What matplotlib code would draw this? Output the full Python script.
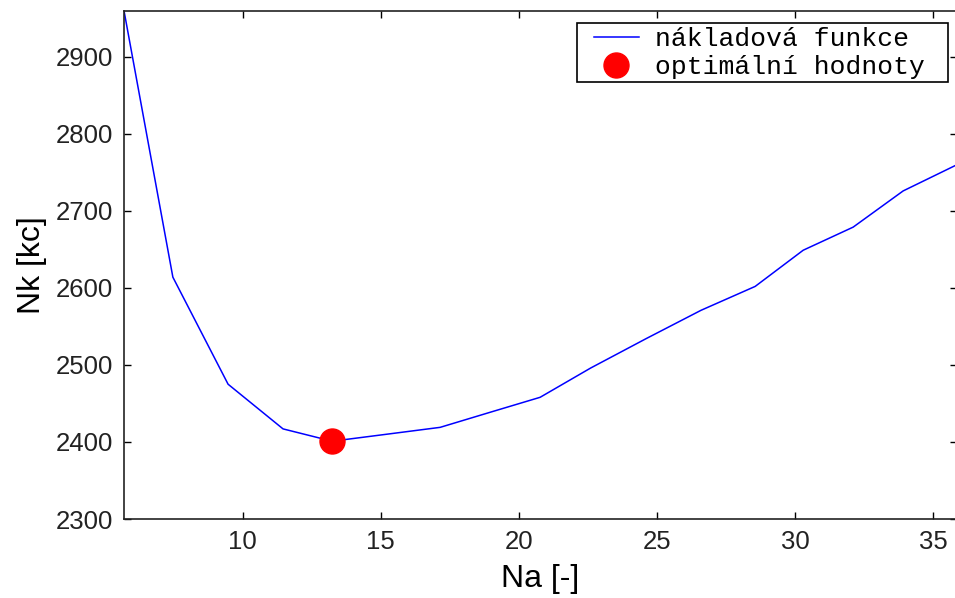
import matplotlib
matplotlib.use("Agg")
import matplotlib.pyplot as plt
from matplotlib.patches import Rectangle

# cost function samples
na = [5.70, 7.47, 9.47, 11.46, 13.24, 15.2, 17.15, 19.0, 20.77, 22.6, 24.6, 26.6,
      28.56, 30.30, 32.11, 33.92, 35.81]
nk = [2960, 2614, 2475, 2417, 2401, 2410, 2419, 2439, 2458, 2496, 2534, 2571,
      2602, 2649, 2679, 2726, 2759]

opt_na = [13.24]
opt_nk = [2401]

x_ticks = [10, 15, 20, 25, 30, 35]
y_ticks = [2300, 2400, 2500, 2600, 2700, 2800, 2900]

tick_font = ['Liberation Sans', 'DejaVu Sans']
mono_font = ['Liberation Mono', 'DejaVu Sans Mono']

W, H = 955, 598
fig = plt.figure(figsize=(W / 100, H / 100), dpi=100)
ax = fig.add_axes([124 / W, 79 / H, 833 / W, 508.3 / H])

ax.plot(na, nk, color='#0000ff', lw=1.1, label='nákladová funkce')
ax.plot(opt_na, opt_nk, 'o', color='#ff0000', ms=18, mec='#ff0000',
        label='optimální hodnoty')

ax.set_xlim(5.70, 35.87)
ax.set_ylim(2300, 2960)
ax.set_xticks(x_ticks)
ax.set_yticks(y_ticks)

ax.tick_params(direction='in', length=5, width=1, top=True, right=True,
               labelsize=18.5, pad=8, colors='black')
for lab in ax.get_xticklabels() + ax.get_yticklabels():
    lab.set_family(tick_font)
    lab.set_color('#222222')

for sp in ax.spines.values():
    sp.set_linewidth(1.2)
    sp.set_color('#222222')

ax.set_xlabel('Na [-]', fontsize=23, family=tick_font, labelpad=7)
ax.set_ylabel('Nk [kc]', fontsize=23, family=tick_font, labelpad=6)

# legend box drawn by hand, entries placed inside it
box = Rectangle((577 / W, 1 - 82 / H), 371 / W, 59 / H,
                transform=fig.transFigure, facecolor='white',
                edgecolor='black', lw=1.2, zorder=5, clip_on=False)
ax.add_patch(box)
leg = ax.legend(loc='upper left', bbox_to_anchor=(594 / W, 1 - 27 / H),
                bbox_transform=fig.transFigure, borderaxespad=0,
                prop={'family': mono_font, 'size': 19},
                handlelength=1.7, handletextpad=0.62, labelspacing=0.15,
                borderpad=0, frameon=False, markerscale=1.0)
leg.set_zorder(6)

fig.savefig('out.png', dpi=100)
